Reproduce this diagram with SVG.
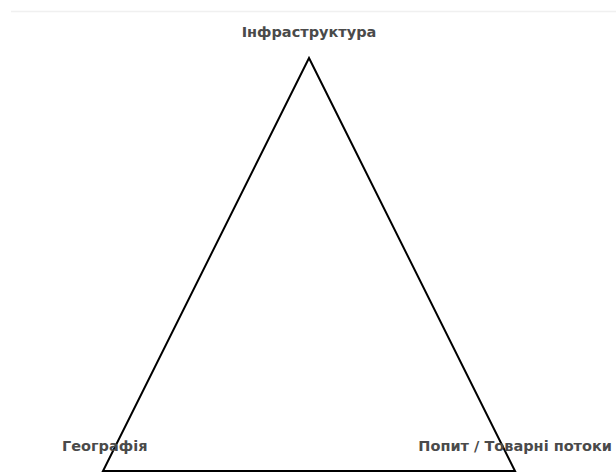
<svg xmlns="http://www.w3.org/2000/svg" width="616" height="473" viewBox="0 0 616 473">
<style>
.lbl{font-family:"DejaVu Sans",sans-serif;font-weight:bold;font-size:14.5px;fill:#4a4a4a}
</style>
<rect width="616" height="473" fill="#fff"/>
<line x1="11" y1="11.5" x2="616" y2="11.5" stroke="#f0f0f0" stroke-width="1.5"/>
<g id="connectors">
<polygon points="309,58 515,471 103,471" fill="none" stroke="#000" stroke-width="2" stroke-linejoin="miter"/>
</g>
<g id="infra"><text class="lbl" x="309" y="37" text-anchor="middle">Інфраструктура</text></g>
<g id="geo"><text class="lbl" x="62" y="451">Географія</text></g>
<g id="demand"><text class="lbl" x="612" y="451" text-anchor="end">Попит / Товарні потоки</text></g>
</svg>
